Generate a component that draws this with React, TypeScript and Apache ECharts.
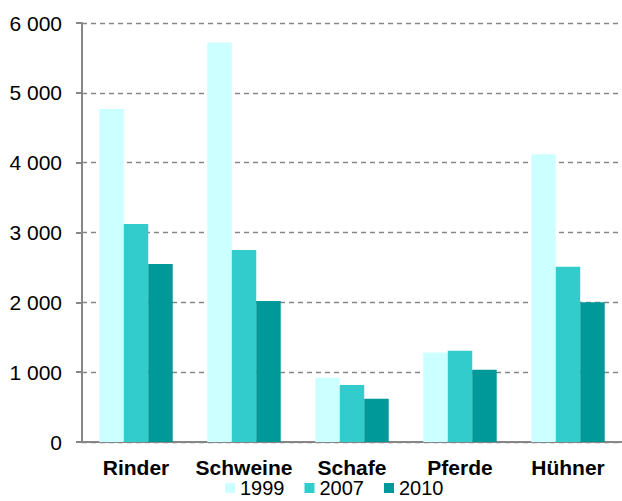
import React, { useEffect, useRef } from "react";
import * as echarts from "echarts";

const categories = ["Rinder", "Schweine", "Schafe", "Pferde", "Hühner"];
const seriesNames = ["1999", "2007", "2010"];
const values1999 = [4770, 5720, 920, 1280, 4120];
const values2007 = [3120, 2750, 815, 1305, 2510];
const values2010 = [2550, 2020, 620, 1035, 2000];
const seriesColors = ["#CCFFFF", "#33CCCC", "#009999"];
const yTicks = { min: 0, max: 6000, interval: 1000 };

export default function App() {
  const ref = useRef<HTMLDivElement>(null);
  useEffect(() => {
    if (!ref.current) return;
    const chart = echarts.init(ref.current, undefined, { renderer: "svg" });
    const data = [values1999, values2007, values2010];
    chart.setOption({
      animation: false,
      textStyle: { fontFamily: "Liberation Sans, Arial, sans-serif" },
      grid: { left: 82, right: 0, top: 23, bottom: 59, containLabel: false },
      legend: {
        left: 225,
        top: 478,
        padding: 0,
        itemWidth: 10,
        itemHeight: 10,
        itemGap: 20,
        icon: "rect",
        textStyle: { fontSize: 20, color: "#000", padding: [0, 0, 0, 0] },
        data: seriesNames,
      },
      xAxis: {
        type: "category",
        data: categories,
        axisLine: { lineStyle: { color: "#868686", width: 2 } },
        axisTick: { show: false },
        axisLabel: { interval: 0, fontSize: 21, fontWeight: "bold", color: "#000", margin: 15 },
      },
      yAxis: {
        type: "value",
        min: yTicks.min,
        max: yTicks.max,
        interval: yTicks.interval,
        axisLine: { show: true, lineStyle: { color: "#868686", width: 2 } },
        axisTick: { show: true, length: 6, lineStyle: { color: "#868686", width: 2 } },
        axisLabel: {
          fontSize: 21,
          color: "#000",
          margin: 20,
          formatter: (v: number) => String(v).replace(/\B(?=(\d{3})+(?!\d))/g, " "),
        },
        splitLine: { lineStyle: { color: "#868686", type: [5, 4], width: 1.3 } },
      },
      series: seriesNames.map((name, i) => ({
        name,
        type: "bar",
        data: data[i],
        barGap: "0%",
        barCategoryGap: "32%",
        itemStyle: { color: seriesColors[i] },
      })),
    });
    return () => chart.dispose();
  }, []);
  return (
    <div
      ref={ref}
      style={{ position: "fixed", left: 0, top: 0, width: 622, height: 501, background: "#fff" }}
    />
  );
}
